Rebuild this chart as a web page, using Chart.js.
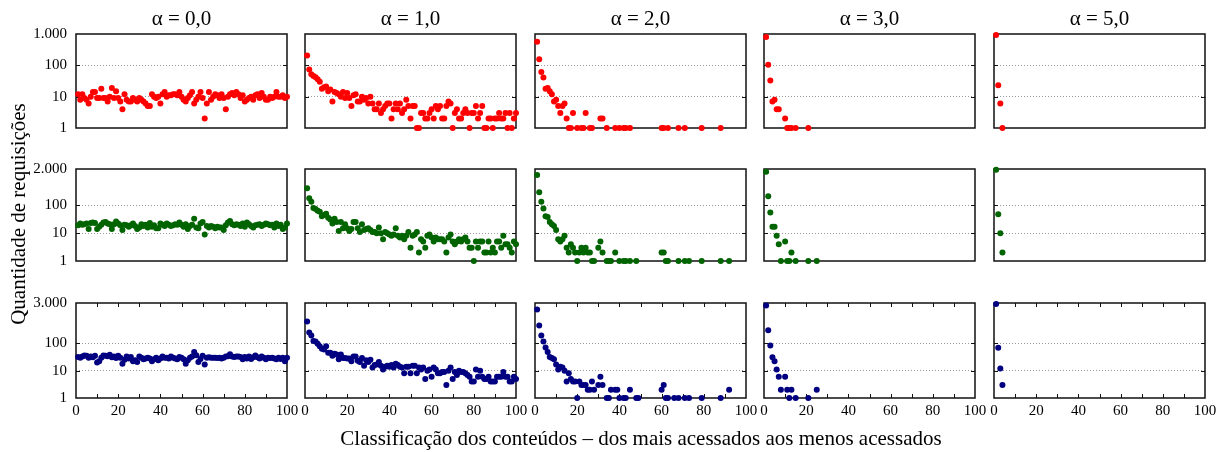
<!DOCTYPE html>
<html>
<head>
<meta charset="utf-8">
<script src="https://cdn.jsdelivr.net/npm/chart.js@4.4.1/dist/chart.umd.min.js"></script>
<style>
  body { margin: 0; background: #fff; }
  #wrap { position: relative; width: 1232px; height: 452px; overflow: hidden; font-family: 'Liberation Serif', 'Times New Roman', serif; }
  .panel { position: absolute; }
  .lbl { position: absolute; font-size: 21px; line-height: 24px; color: #000; white-space: nowrap; text-align: center; }
</style>
</head>
<body>
<div id="wrap"></div>
<script>
// column titles and tick labels
const alphaLabels = ['α = 0,0', 'α = 1,0', 'α = 2,0', 'α = 3,0', 'α = 5,0'];
const rowMax = [1000, 2000, 3000];
const yTickVals = [[1, 10, 100, 1000], [1, 10, 100, 2000], [1, 10, 100, 3000]];
const yTickLabels = [['1', '10', '100', '1.000'], ['1', '10', '100', '2.000'], ['1', '10', '100', '3.000']];
const xTickVals = [0, 20, 40, 60, 80, 100];
const yTitle = 'Quantidade de requisições';
const xTitle = 'Classificação dos conteúdos – dos mais acessados aos menos acessados';

// ranks 1..100 (content classification)
const ranks = Array.from({length: 100}, (_, i) => i + 1);

// row 1 (red)
const red_a0 = [12, 8, 12, 9, 8, 6, 10, 14, 14, 9,
  9, 18, 9, 9, 7, 10, 19, 9, 15, 9,
  7, 4, 12, 8, 7, 7, 9, 8, 7, 9,
  8, 7, 6, 5, 5, 12, 10, 9, 10, 6,
  12, 14, 10, 11, 11, 12, 12, 11, 14, 10,
  8, 7, 9, 11, 14, 6, 8, 10, 14, 9,
  2, 6, 14, 8, 10, 12, 11, 9, 12, 9,
  4, 10, 12, 13, 11, 14, 12, 9, 11, 7,
  8, 9, 10, 8, 11, 12, 9, 13, 10, 8,
  8, 10, 9, 10, 14, 10, 10, 11, 9, 10];
const red_a1 = [205, 74, 52, 46, 42, 36, 30, 18, 20, 21,
  15, 17, 7, 14, 13, 12, 10, 14, 9, 13,
  9, 5, 11, 12, 7, 7, 10, 8, 9, 6,
  10, 6, 4, 4, 6, 3, 4, 5, 6, 6,
  2, 4, 6, 4, 6, 3, 4, 8, 5, 2,
  5, 5, 1, 1, 3, 3, 2, 2, 3, 4,
  2, 5, 4, 5, 2, 2, 5, 7, 6, 1,
  3, 4, 2, 2, 3, 4, 3, 1, 3, 3,
  5, 2, 3, 5, 1, 1, 2, 2, 1, 2,
  2, 3, 2, 2, 3, 1, 3, 1, 2, 3];
const red_a2_x = [1, 2, 3, 4, 5, 6, 7, 8, 9, 10, 11, 12, 13, 14, 15, 16, 17, 18, 20, 22, 23, 24, 26, 27, 31, 32, 34, 38, 40, 42, 43, 45, 60, 61, 63, 68, 71, 79, 88];
const red_a2 = [566, 155, 61, 41, 18, 19, 15, 12, 7, 8, 5, 3, 5, 6, 2, 1, 1, 3, 1, 1, 1, 3, 1, 1, 2, 2, 1, 1, 1, 1, 1, 1, 1, 1, 1, 1, 1, 1, 1];
const red_a3_x = [1, 2, 3, 4, 5, 6, 7, 10, 11, 12, 13, 15, 21];
const red_a3 = [800, 105, 33, 7, 8, 4, 4, 2, 1, 1, 1, 1, 1];
const red_a5_x = [1, 2, 3, 4];
const red_a5 = [930, 23, 6, 1];

// row 2 (green)
const green_a0 = [19, 22, 20, 21, 22, 14, 23, 24, 23, 14,
  17, 20, 24, 25, 22, 21, 14, 21, 26, 22,
  19, 13, 20, 19, 17, 19, 22, 18, 14, 16,
  21, 18, 20, 16, 23, 17, 19, 15, 15, 22,
  20, 18, 22, 20, 18, 19, 21, 20, 24, 20,
  17, 21, 14, 18, 20, 33, 16, 15, 22, 25,
  9, 18, 16, 18, 17, 15, 17, 16, 16, 13,
  19, 24, 27, 21, 19, 21, 20, 18, 22, 17,
  24, 21, 18, 16, 19, 20, 21, 18, 20, 22,
  21, 19, 20, 16, 22, 18, 20, 14, 16, 22];
const green_a1 = [405, 178, 135, 80, 74, 63, 58, 40, 45, 50,
  36, 31, 22, 33, 25, 12, 25, 15, 21, 15,
  12, 14, 25, 25, 15, 11, 21, 13, 14, 15,
  13, 11, 11, 10, 16, 10, 6, 11, 10, 9,
  8, 9, 15, 8, 7, 8, 6, 8, 11, 3,
  8, 9, 11, 2, 6, 5, 3, 8, 9, 7,
  5, 7, 6, 6, 6, 5, 2, 7, 9, 5,
  4, 5, 6, 5, 6, 7, 5, 3, 3, 1,
  5, 3, 5, 5, 2, 2, 5, 2, 3, 2,
  5, 5, 3, 8, 4, 4, 3, 2, 5, 4];
const green_a2_x = [1, 2, 3, 4, 5, 6, 7, 8, 9, 10, 11, 12, 13, 14, 15, 16, 17, 18, 19, 20, 21, 22, 23, 24, 25, 26, 27, 28, 30, 31, 32, 34, 35, 36, 38, 40, 42, 43, 45, 48, 60, 61, 62, 63, 68, 71, 73, 79, 88, 92];
const green_a2 = [1210, 290, 135, 76, 40, 38, 25, 21, 18, 13, 6, 5, 6, 8, 3, 2, 4, 3, 2, 1, 2, 3, 2, 3, 2, 2, 1, 1, 3, 5, 2, 1, 1, 1, 2, 1, 1, 1, 1, 1, 2, 2, 1, 1, 1, 1, 1, 1, 1, 1];
const green_a3_x = [1, 2, 3, 4, 5, 6, 7, 8, 10, 11, 12, 13, 15, 21, 25];
const green_a3 = [1600, 209, 55, 17, 17, 8, 4, 1, 5, 1, 1, 2, 1, 1, 1];
const green_a5_x = [1, 2, 3, 4];
const green_a5 = [1870, 48, 10, 2];

// row 3 (blue)
const blue_a0 = [32, 30, 33, 36, 35, 30, 33, 31, 35, 20,
  22, 30, 36, 35, 34, 38, 31, 33, 29, 35,
  30, 18, 25, 33, 28, 32, 22, 24, 21, 33,
  30, 26, 28, 30, 28, 22, 26, 30, 24, 28,
  33, 30, 30, 28, 33, 30, 28, 26, 32, 30,
  26, 18, 24, 30, 33, 48, 37, 21, 27, 35,
  17, 30, 31, 30, 30, 30, 29, 30, 28, 30,
  33, 34, 40, 33, 32, 33, 33, 32, 26, 32,
  28, 33, 27, 31, 36, 31, 28, 33, 30, 26,
  30, 29, 30, 28, 26, 30, 27, 30, 22, 30];
const blue_a1 = [630, 250, 195, 121, 118, 97, 78, 64, 59, 78,
  45, 45, 35, 42, 39, 26, 39, 29, 29, 28,
  28, 22, 33, 33, 23, 21, 29, 15, 24, 21,
  25, 13, 16, 17, 21, 15, 11, 14, 15, 14,
  16, 13, 18, 16, 14, 13, 8, 14, 14, 8,
  15, 15, 8, 13, 11, 13, 5, 10, 11, 6,
  13, 11, 8, 8, 9, 9, 3, 10, 13, 5,
  9, 7, 10, 9, 9, 8, 7, 6, 4, 4,
  11, 6, 10, 6, 5, 5, 6, 4, 4, 4,
  6, 6, 6, 9, 6, 6, 4, 4, 6, 5];
const blue_a2_x = [1, 2, 3, 4, 5, 6, 7, 8, 9, 10, 11, 12, 13, 14, 15, 16, 17, 18, 19, 20, 21, 22, 23, 24, 25, 26, 27, 28, 30, 31, 32, 34, 35, 36, 38, 39, 40, 42, 43, 45, 48, 49, 60, 61, 62, 63, 66, 68, 71, 73, 79, 88, 92];
const blue_a2 = [1730, 450, 195, 118, 71, 48, 32, 29, 26, 17, 11, 14, 13, 10, 4, 8, 5, 4, 4, 1, 4, 3, 3, 3, 2, 2, 4, 2, 3, 6, 3, 1, 1, 2, 2, 2, 1, 1, 1, 2, 1, 1, 2, 3, 1, 1, 1, 1, 1, 1, 1, 1, 2];
const blue_a3_x = [1, 2, 3, 4, 5, 6, 7, 8, 10, 11, 12, 13, 15, 21, 25];
const blue_a3 = [2450, 305, 84, 31, 22, 11, 6, 2, 6, 2, 1, 2, 1, 1, 2];
const blue_a5_x = [1, 2, 3, 4];
const blue_a5 = [2760, 69, 12, 3];

const series = [
  [[ranks, red_a0], [ranks, red_a1], [red_a2_x, red_a2], [red_a3_x, red_a3], [red_a5_x, red_a5]],
  [[ranks, green_a0], [ranks, green_a1], [green_a2_x, green_a2], [green_a3_x, green_a3], [green_a5_x, green_a5]],
  [[ranks, blue_a0], [ranks, blue_a1], [blue_a2_x, blue_a2], [blue_a3_x, blue_a3], [blue_a5_x, blue_a5]]
];
const colors = ['#ff0000', '#006400', '#000080'];

// layout of the plot areas
const colLeft = [76, 305, 535, 764, 994];
const plotW = 211;
const rowTop = [34, 169, 303];
const rowBot = [128, 261, 398];
const L = 80, R = 16, T = 22, BP = 22, XH = 30;
const serif = "'Liberation Serif', 'Times New Roman', serif";

// frame + inner tick marks
const framePlugin = {
  id: 'frame',
  beforeDatasetsDraw(chart, args, opts) {
    const {ctx, chartArea: a, scales: {x, y}} = chart;
    ctx.save();
    ctx.strokeStyle = '#111';
    ctx.lineWidth = 1;
    ctx.beginPath();
    [10, 100].forEach(v => {
      const py = Math.round(y.getPixelForValue(v)) + 0.5;
      ctx.moveTo(a.left, py); ctx.lineTo(a.left + 4, py);
      ctx.moveTo(a.right - 4, py); ctx.lineTo(a.right, py);
    });
    if (opts.xTicks) {
      for (let v = 10; v < 100; v += 10) {
        const px = Math.round(x.getPixelForValue(v)) + 0.5;
        ctx.moveTo(px, a.bottom); ctx.lineTo(px, a.bottom - 4);
        ctx.moveTo(px, a.top); ctx.lineTo(px, a.top + 4);
      }
    }
    ctx.stroke();
    ctx.lineWidth = 1.5;
    ctx.strokeRect(a.left, a.top, a.right - a.left, a.bottom - a.top);
    ctx.restore();
  }
};

const wrap = document.getElementById('wrap');

for (let r = 0; r < 3; r++) {
  for (let c = 0; c < 5; c++) {
    const last = r === 2;
    const h = rowBot[r] - rowTop[r];
    const cw = L + plotW + R;
    const ch = T + h + (last ? XH : BP);
    const div = document.createElement('div');
    div.className = 'panel';
    div.style.left = (colLeft[c] - L) + 'px';
    div.style.top = (rowTop[r] - T) + 'px';
    div.style.width = cw + 'px';
    div.style.height = ch + 'px';
    const canvas = document.createElement('canvas');
    canvas.width = cw;
    canvas.height = ch;
    div.appendChild(canvas);
    wrap.appendChild(div);

    const [xs, ys] = series[r][c];
    new Chart(canvas, {
      type: 'scatter',
      data: {
        datasets: [{
          data: xs.map((x, i) => ({x: x, y: ys[i]})),
          backgroundColor: colors[r],
          borderWidth: 0,
          pointRadius: 3,
          clip: false
        }]
      },
      options: {
        responsive: false,
        animation: false,
        devicePixelRatio: 1,
        layout: {padding: {left: 0, top: T, right: R, bottom: last ? 0 : BP}},
        plugins: {legend: {display: false}, tooltip: {enabled: false}, frame: {xTicks: last}},
        scales: {
          x: {
            type: 'linear', min: 0, max: 100,
            display: last,
            afterFit: s => { s.height = last ? XH : 0; },
            afterBuildTicks: s => { s.ticks = xTickVals.map(v => ({value: v})); },
            grid: {display: false, drawTicks: false},
            border: {display: false},
            ticks: {autoSkip: false, maxRotation: 0, padding: 4, color: '#000', font: {family: serif, size: 15}}
          },
          y: {
            type: 'logarithmic', min: 1, max: rowMax[r],
            afterFit: s => { s.width = L; },
            afterBuildTicks: s => { s.ticks = yTickVals[r].map(v => ({value: v})); },
            grid: {
              drawTicks: false, lineWidth: 1, borderDash: [1, 2],
              color: ctx => (ctx.tick && (ctx.tick.value === 10 || ctx.tick.value === 100)) ? '#999' : 'rgba(0,0,0,0)'
            },
            border: {display: false, dash: [1, 2]},
            ticks: {
              display: c === 0, autoSkip: false, padding: 9, color: '#000',
              font: {family: serif, size: 15},
              callback: (v, i) => yTickLabels[r][i]
            }
          }
        }
      },
      plugins: [framePlugin]
    });
  }
}

// text labels
alphaLabels.forEach((t, c) => {
  const d = document.createElement('div');
  d.className = 'lbl';
  d.textContent = t;
  d.style.left = (colLeft[c] + plotW / 2 - 100) + 'px';
  d.style.width = '200px';
  d.style.top = '6px';
  wrap.appendChild(d);
});
const yt = document.createElement('div');
yt.className = 'lbl';
yt.textContent = yTitle;
yt.style.width = '400px';
yt.style.left = (18 - 200) + 'px';
yt.style.top = (214 - 12) + 'px';
yt.style.transform = 'rotate(-90deg)';
wrap.appendChild(yt);
const xt = document.createElement('div');
xt.className = 'lbl';
xt.textContent = xTitle;
xt.style.width = '800px';
xt.style.left = (641 - 400) + 'px';
xt.style.top = '426px';
wrap.appendChild(xt);
</script>
</body>
</html>
